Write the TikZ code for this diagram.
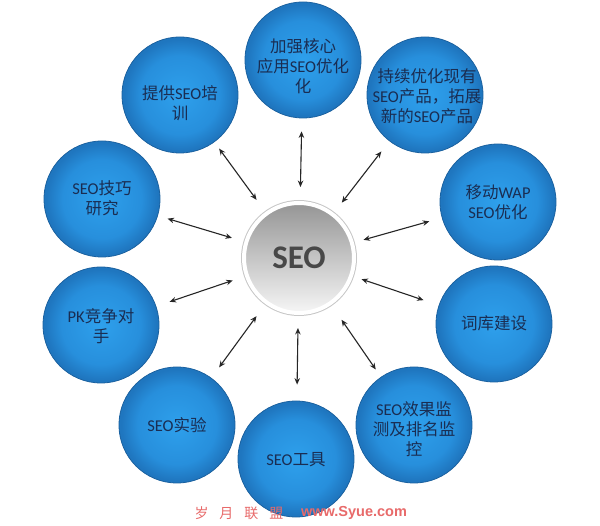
\documentclass[tikz,border=0pt]{standalone}
\usepackage{fontspec}
\setmainfont{Noto Sans CJK SC}
\newfontfamily\lat{Carlito}
\newfontfamily\wmfont{Liberation Sans}
\usetikzlibrary{arrows.meta}
\definecolor{txtc}{HTML}{1A2D52}
\definecolor{bIn}{HTML}{2EA0EC}
\definecolor{bMid}{HTML}{278FDC}
\definecolor{bOut}{HTML}{1F76BF}
\definecolor{bLine}{HTML}{1B619F}
\definecolor{hubTop}{HTML}{959595}
\definecolor{hubBot}{HTML}{F6F6F6}
\definecolor{hubTxt}{HTML}{484848}
\definecolor{wmred}{HTML}{E86A6A}
\pgfdeclareradialshading{bluesh}{\pgfpoint{0bp}{0bp}}{color(0bp)=(bIn); color(17bp)=(bMid); color(24bp)=(bOut); color(25bp)=(bOut); color(50bp)=(bOut)}
\begin{document}
\begin{tikzpicture}[x=1pt,y=-1pt,
  blob/.style={circle, minimum size=116pt, inner sep=0pt, shading=bluesh, draw=bLine, line width=0.8pt},
  tx/.style={text=txtc, align=center, inner sep=0pt, font=\fontsize{16.5}{20}\selectfont},
  hub/.style={circle, minimum size=110pt, inner sep=0pt, top color=hubTop, bottom color=hubBot, draw=white, line width=4pt, preaction={draw=black!22, line width=6pt}, text=hubTxt, font=\lat\bfseries\fontsize{33}{33}\selectfont},
  arr/.style={{Stealth[length=6.5pt,width=5.5pt]}-{Stealth[length=6.5pt,width=5.5pt]}, line width=1.1pt, draw=black!85},
  wm/.style={inner sep=0pt, text=wmred}
]
\useasboundingbox[fill=white] (0,0) rectangle (600,526);

\node[hub] (c) at (299,258) {SEO};

\node[blob] (n1) at (303,60) {};
\node[blob] (n2) at (425,95) {};
\node[blob] (n3) at (498,202) {};
\node[blob] (n4) at (494,324) {};
\node[blob] (n5) at (414,425) {};
\node[blob] (n6) at (296,459) {};
\node[blob] (n7) at (177,425) {};
\node[blob] (n8) at (101,325) {};
\node[blob] (n9) at (102,199) {};
\node[blob] (n10) at (180,95) {};

\node[tx] (t1) at (303,66) {加强核心\\应用{\lat SEO}优化\\化};
\node[tx] (t2) at (427,96) {持续优化现有\\{\lat SEO}产品，拓展\\新的{\lat SEO}产品};
\node[tx] (t3) at (498,202) {移动{\lat WAP}\\{\lat SEO}优化};
\node[tx] (t4) at (494,323) {词库建设};
\node[tx] (t5) at (414,429) {{\lat SEO}效果监\\测及排名监\\控};
\node[tx] (t6) at (296,460) {{\lat SEO}工具};
\node[tx] (t7) at (177,425) {{\lat SEO}实验};
\node[tx] (t8) at (101,326) {{\lat PK}竞争对\\手};
\node[tx] (t9) at (102,198) {{\lat SEO}技巧\\研究};
\node[tx] (t10) at (180,103) {提供{\lat SEO}培\\训};

\draw[arr, shorten <=14pt, shorten >=13pt] (c) -- (n1);
\draw[arr, shorten <=13pt, shorten >=13pt] (c) -- (n2);
\draw[arr, shorten <=10pt, shorten >=13pt] (c) -- (n3);
\draw[arr, shorten <=9pt, shorten >=16pt] (c) -- (n4);
\draw[arr, shorten <=18pt, shorten >=9pt] (c) -- (n5);
\draw[arr, shorten <=13pt, shorten >=16pt] (c) -- (n6);
\draw[arr, shorten <=15pt, shorten >=13pt] (c) -- (n7);
\draw[arr, shorten <=13pt, shorten >=14pt] (c) -- (n8);
\draw[arr, shorten <=13pt, shorten >=10pt] (c) -- (n9);
\draw[arr, shorten <=15pt, shorten >=8pt] (c) -- (n10);

\node[wm, font=\fontsize{14}{14}\selectfont] (wa) at (239,513) {岁\hspace{11pt}月\hspace{11pt}联\hspace{11pt}盟};
\node[wm, font=\wmfont\bfseries\fontsize{14.5}{14.5}\selectfont] (wb) at (354,513) {www.Syue.com};
\end{tikzpicture}
\end{document}
